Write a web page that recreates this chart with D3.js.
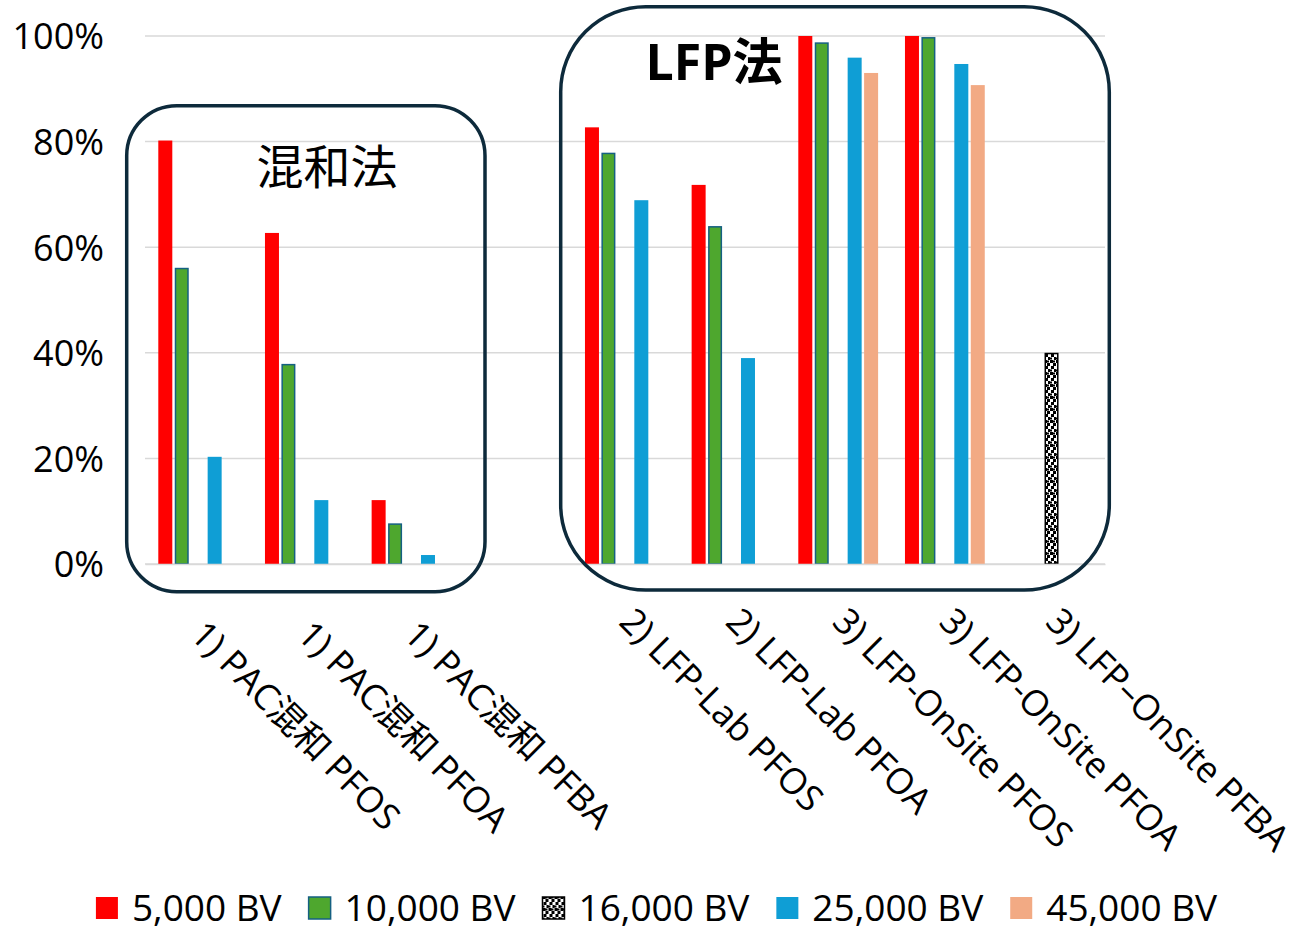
<!DOCTYPE html>
<html>
<head>
<meta charset="utf-8">
<script src="https://cdn.jsdelivr.net/npm/d3@7"></script>
<style>
  html, body { margin: 0; padding: 0; background: #ffffff; }
  svg { display: block; }
  text { font-family: "Open Sans", "Noto Sans CJK JP", sans-serif; fill: #000; }
</style>
</head>
<body>
<svg id="chart" width="1294" height="930"></svg>
<script>
// ---------- data ----------
const categories = [
  "1) PAC混和 PFOS", "1) PAC混和 PFOA", "1) PAC混和 PFBA", "",
  "2) LFP-Lab PFOS", "2) LFP-Lab PFOA",
  "3) LFP-OnSite PFOS", "3) LFP-OnSite PFOA", "3) LFP–OnSite PFBA"
];
const seriesNames = ["5,000 BV", "10,000 BV", "16,000 BV", "25,000 BV", "45,000 BV"];
const bv5000  = [0.802, 0.627, 0.121, null, 0.827, 0.718, 1.000, 1.000, null];
const bv10000 = [0.561, 0.379, 0.077, null, 0.779, 0.640, 0.988, 0.998, null];
const bv16000 = [null,  null,  null,  null, null,  null,  null,  null,  0.400];
const bv25000 = [0.203, 0.121, 0.017, null, 0.689, 0.390, 0.959, 0.947, null];
const bv45000 = [null,  null,  null,  null, null,  null,  0.930, 0.907, null];
const yTicks = [0, 0.2, 0.4, 0.6, 0.8, 1.0];
const groupTitles = ["混和法", "LFP法"];

// ---------- styles ----------
const seriesValues = [bv5000, bv10000, bv16000, bv25000, bv45000];
const seriesFill = ["#ff0000", "#4ea72e", "url(#confetti)", "#0f9ed5", "#f2aa84"];
const seriesStroke = [null, "#156082", "#000000", null, null];

const svg = d3.select("#chart");

// pattern for 16,000 BV
const defs = svg.append("defs");
const pat = defs.append("pattern")
  .attr("id", "confetti").attr("patternUnits", "userSpaceOnUse")
  .attr("width", 6).attr("height", 12);
pat.append("rect").attr("width", 6).attr("height", 12).attr("fill", "#ffffff");
[[0,0],[3,3],[1,6],[4,9],[3,0.5],[0,9.5]].forEach(([px, py], k) => {
  pat.append("rect").attr("x", px).attr("y", py)
    .attr("width", k < 4 ? 3 : 2).attr("height", k < 4 ? 3 : 2).attr("fill", "#000");
});

// ---------- scales ----------
const x0 = d3.scaleBand().domain(d3.range(categories.length)).range([145, 1105]).padding(0);
const x1 = d3.scaleBand().domain(d3.range(seriesNames.length))
  .range([13.3, 93.1]).paddingInner(0.149).paddingOuter(0);
const y = d3.scaleLinear().domain([0, 1]).range([564, 36]);

// ---------- gridlines ----------
svg.append("g")
  .selectAll("line").data(yTicks).join("line")
  .attr("x1", 145).attr("x2", 1105)
  .attr("y1", d => y(d)).attr("y2", d => y(d))
  .attr("stroke", "#d9d9d9").attr("stroke-width", 1.5);

// ---------- y axis ----------
const yAxis = d3.axisLeft(y).tickValues(yTicks).tickFormat(d3.format(".0%")).tickSize(0).tickPadding(0);
const gy = svg.append("g").attr("transform", "translate(104,0)").call(yAxis);
gy.select(".domain").remove();
gy.selectAll("text")
  .attr("font-size", 36).attr("font-family", "Open Sans, sans-serif")
  .attr("fill", "#000").attr("dy", "0.36em");

// ---------- bars ----------
const barData = [];
seriesValues.forEach((vals, s) => {
  vals.forEach((v, c) => { if (v !== null) barData.push({ s, c, v }); });
});
svg.append("g").selectAll("rect").data(barData).join("rect")
  .attr("x", d => x0(d.c) + x1(d.s) + (seriesStroke[d.s] ? 0.75 : 0))
  .attr("y", d => y(d.v) + (seriesStroke[d.s] ? 0.75 : 0))
  .attr("width", d => x1.bandwidth() - (seriesStroke[d.s] ? 1.5 : 0))
  .attr("height", d => y(0) - y(d.v) - (seriesStroke[d.s] ? 0.75 : 0))
  .attr("fill", d => seriesFill[d.s])
  .attr("stroke", d => seriesStroke[d.s] || "none")
  .attr("stroke-width", 1.5);

// ---------- x axis ----------
const xAxis = d3.axisBottom(x0).tickFormat(i => categories[i]).tickSize(0);
const gx = svg.append("g").attr("transform", `translate(0,${y(0)})`).call(xAxis);
gx.select(".domain").attr("stroke", "#d9d9d9").attr("stroke-width", 1.5);
const hasCJK = s => /[\u3000-\u9fff]/.test(s);
gx.selectAll(".tick text")
  .attr("font-size", 36)
  .attr("font-family", "Open Sans, Noto Sans CJK JP, sans-serif")
  .attr("fill", "#000")
  .attr("text-anchor", "start")
  .attr("dominant-baseline", "central")
  .attr("y", 0).attr("dy", 0)
  .attr("transform", function(i) {
    const dy = hasCJK(categories[i]) ? 63 : 50;
    const dx = hasCJK(categories[i]) ? 0 : 2;
    return `translate(${dx},${dy}) rotate(45)`;
  });

// ---------- grouping boxes ----------
const boxes = [
  { x1: 126.7, y1: 105.7, x2: 485, y2: 591.7, r: 50, title: groupTitles[0], tx: 327, ty: 166, bold: false, fs: 47 },
  { x1: 560.7, y1: 6.7, x2: 1109.3, y2: 590, r: 85, title: groupTitles[1], tx: 714, ty: 61, bold: true, fs: 50 }
];
const gb = svg.append("g");
gb.selectAll("rect").data(boxes).join("rect")
  .attr("x", d => d.x1).attr("y", d => d.y1)
  .attr("width", d => d.x2 - d.x1).attr("height", d => d.y2 - d.y1)
  .attr("rx", d => d.r).attr("ry", d => d.r)
  .attr("fill", "none").attr("stroke", "#0d2a3b").attr("stroke-width", 3.5);
gb.selectAll("text").data(boxes).join("text")
  .attr("x", d => d.tx).attr("y", d => d.ty)
  .attr("text-anchor", "middle").attr("dominant-baseline", "central")
  .attr("font-family", "Noto Sans CJK JP, sans-serif")
  .attr("font-weight", d => d.bold ? 700 : 400)
  .attr("font-size", d => d.fs)
  .text(d => d.title);

// ---------- legend ----------
const legend = svg.append("g");
const items = legend.selectAll("g").data(seriesNames).join("g");
items.append("rect")
  .attr("width", 22).attr("height", 22).attr("y", -11)
  .attr("fill", (d, i) => seriesFill[i])
  .attr("stroke", (d, i) => seriesStroke[i] || "none")
  .attr("stroke-width", 1.5);
items.append("text")
  .attr("x", 36).attr("dy", "0.36em")
  .attr("font-size", 37).attr("font-family", "Open Sans, sans-serif")
  .text(d => d);
const widths = [];
items.each(function() { widths.push(this.getBBox().width); });
const gap = 26;
const total = d3.sum(widths) + gap * (widths.length - 1);
let cx = 657 - total / 2;
items.attr("transform", (d, i) => {
  const t = `translate(${cx},908)`;
  cx += widths[i] + gap;
  return t;
});
</script>
</body>
</html>
